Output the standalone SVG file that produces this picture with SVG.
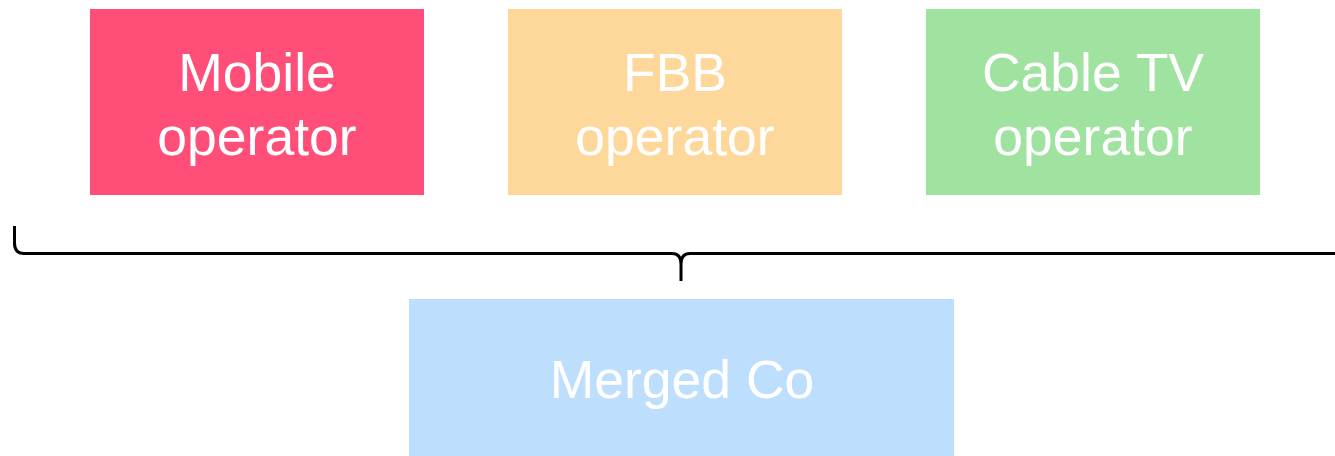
<svg xmlns="http://www.w3.org/2000/svg" width="1335" height="456" viewBox="0 0 1335 456">
  <style>
    .box { stroke: none; }
    .label { font-family: "Liberation Sans", Arial, sans-serif; font-size: 53.5px; fill: #ffffff; text-anchor: middle; }
    .brace { fill: none; stroke: #000000; stroke-width: 3; stroke-linecap: butt; stroke-linejoin: round; }
  </style>
  <rect width="1335" height="456" fill="#ffffff"/>

  <g id="mobile-operator">
    <rect class="box" x="90" y="9" width="334" height="186" fill="#FF4F79"/>
    <text class="label" x="257" y="91">Mobile</text>
    <text class="label" x="257" y="155">operator</text>
  </g>

  <g id="fbb-operator">
    <rect class="box" x="508" y="9" width="334" height="186" fill="#FED89A"/>
    <text class="label" x="675" y="91">FBB</text>
    <text class="label" x="675" y="155">operator</text>
  </g>

  <g id="cable-tv-operator">
    <rect class="box" x="926" y="9" width="334" height="186" fill="#A0E29F"/>
    <text class="label" x="1093" y="91">Cable TV</text>
    <text class="label" x="1093" y="155">operator</text>
  </g>

  <g id="connectors">
    <!-- curly brace grouping the three operators -->
    <path class="brace" d="M14.5,226 L14.5,243 Q14.5,253.5 24,253.5 L672,253.5 Q681,253.5 681,264 L681,281 M681,264 Q681,253.5 690,253.5 L1340,253.5"/>
  </g>

  <g id="merged-co">
    <rect class="box" x="409" y="299" width="545" height="160" fill="#BDDEFD"/>
    <text class="label" x="682" y="398">Merged Co</text>
  </g>
</svg>
